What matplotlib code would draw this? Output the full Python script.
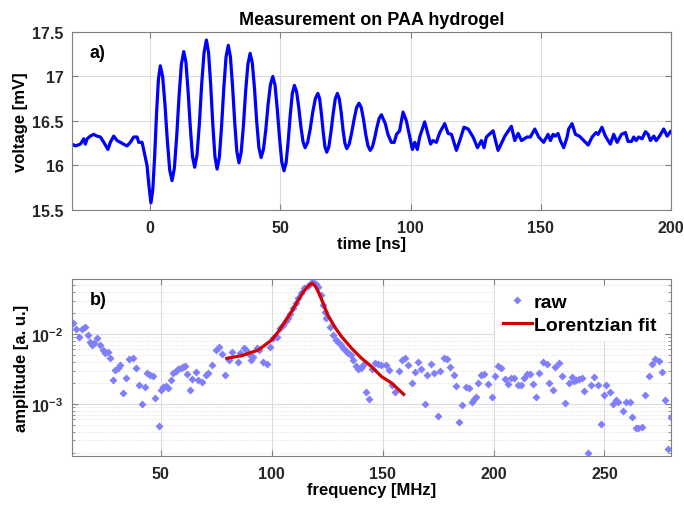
import numpy as np
import matplotlib
matplotlib.use('Agg')
import matplotlib.pyplot as plt
from matplotlib.ticker import FormatStrFormatter, LogLocator, NullFormatter

plt.rcParams['font.family'] = ['Liberation Sans', 'DejaVu Sans']
plt.rcParams['font.weight'] = 'bold'
plt.rcParams['mathtext.fontset'] = 'custom'
plt.rcParams['mathtext.bf'] = 'Liberation Sans:bold'
plt.rcParams['mathtext.rm'] = 'Liberation Sans:bold'

# ---- a) time trace (read off the picture) ----
time_ns = [-30.0, -28.7, -26.8, -25.5, -24.9, -24.2, -23.0, -21.7, -20.4, -19.1,
           -17.8, -16.2, -15.3, -14.0, -12.7, -11.4, -10.2, -8.9, -7.6, -6.3,
           -5.0, -4.4, -3.1, -2.5, -1.2, -0.5, 0.3,
           1.02, 1.74, 2.46, 3.18, 3.9,
           4.8, 5.7, 6.6, 7.5, 8.4,
           9.3, 10.2, 11.1, 12.0, 12.9,
           13.74, 14.58, 15.42, 16.26, 17.1,
           18.0, 18.9, 19.8, 20.7, 21.6,
           22.42, 23.24, 24.06, 24.88, 25.7,
           26.56, 27.42, 28.28, 29.14, 30.0,
           30.82, 31.64, 32.46, 33.28, 34.1,
           34.96, 35.82, 36.68, 37.54, 38.4,
           39.24, 40.08, 40.92, 41.76, 42.6,
           43.5, 44.4, 45.3, 46.2, 47.1,
           47.96, 48.82, 49.68, 50.54, 51.4,
           52.2, 53.0, 53.8, 54.6, 55.4,
           56.22, 57.04, 57.86, 58.68, 59.5,
           60.48, 61.46, 62.44, 63.42, 64.4,
           65.08, 65.76, 66.44, 67.12, 67.8,
           68.62, 69.44, 70.26, 71.08, 71.9,
           72.62, 73.34, 74.06, 74.78, 75.5,
           76.44, 77.38, 78.32, 79.26, 80.2,
           81.06, 81.92, 82.78, 83.64, 84.5,
           85.36, 86.22, 87.08, 87.94, 88.8,
           90.3, 91.3, 92.6, 93.7, 94.6, 95.8, 97.1, 98.4, 99.7,
           100.7, 101.6, 102.6, 103.5, 105.4, 106.7, 107.7, 108.6, 109.9, 111.2,
           113.1, 114.4, 115.7, 117.6, 118.9, 120.5, 122.1, 124.0, 125.7, 127.2,
           128.2, 129.1, 131.7, 132.6, 133.6, 134.9, 136.2, 138.7, 140.0, 141.3,
           142.6, 144.7, 146.0, 147.7, 149.2, 151.1, 152.8, 153.7, 154.7, 155.6,
           156.6, 157.5, 158.8, 160.1, 160.7, 162.0, 163.3, 164.8, 166.5, 168.2,
           169.7, 171.2, 172.0, 173.5, 174.8, 176.7, 178.0, 179.3, 181.0, 182.5,
           183.5, 184.8, 185.7, 186.6, 187.6, 188.9, 190.2, 191.2, 192.1, 193.4,
           194.3, 195.6, 197.2, 198.5, 199.8]
voltage_mV = [16.24, 16.22, 16.24, 16.30, 16.24, 16.30, 16.33, 16.35, 16.33, 16.32,
              16.26, 16.18, 16.26, 16.33, 16.28, 16.26, 16.24, 16.22, 16.26, 16.32,
              16.32, 16.26, 16.26, 16.18, 16.00, 15.78, 15.58,
              15.73, 16.11, 16.59, 16.97, 17.12,
              17.00, 16.68, 16.28, 15.95, 15.83,
              15.97, 16.33, 16.78, 17.14, 17.28,
              17.16, 16.83, 16.43, 16.10, 15.98,
              16.12, 16.47, 16.92, 17.27, 17.41,
              17.27, 16.91, 16.46, 16.10, 15.96,
              16.09, 16.44, 16.87, 17.22, 17.35,
              17.22, 16.89, 16.49, 16.16, 16.03,
              16.15, 16.45, 16.84, 17.14, 17.26,
              17.15, 16.86, 16.49, 16.20, 16.09,
              16.18, 16.40, 16.69, 16.91, 17.00,
              16.90, 16.63, 16.31, 16.04, 15.94,
              16.03, 16.27, 16.57, 16.81, 16.90,
              16.83, 16.66, 16.44, 16.27, 16.20,
              16.26, 16.41, 16.60, 16.75, 16.81,
              16.75, 16.58, 16.38, 16.21, 16.15,
              16.21, 16.38, 16.58, 16.75, 16.81,
              16.75, 16.60, 16.40, 16.25, 16.19,
              16.24, 16.37, 16.52, 16.65, 16.70,
              16.65, 16.52, 16.35, 16.22, 16.17,
              16.21, 16.31, 16.43, 16.53, 16.57,
              16.47, 16.35, 16.26, 16.26, 16.35, 16.39, 16.60, 16.50, 16.32,
              16.18, 16.26, 16.18, 16.32, 16.49, 16.35, 16.24, 16.28, 16.26, 16.37,
              16.47, 16.36, 16.35, 16.17, 16.28, 16.43, 16.41, 16.32, 16.20, 16.28,
              16.20, 16.32, 16.39, 16.28, 16.17, 16.25, 16.33, 16.44, 16.28, 16.36,
              16.28, 16.32, 16.32, 16.41, 16.32, 16.26, 16.35, 16.28, 16.35, 16.33,
              16.36, 16.28, 16.20, 16.32, 16.41, 16.47, 16.35, 16.33, 16.28, 16.23,
              16.32, 16.37, 16.35, 16.43, 16.33, 16.24, 16.35, 16.26, 16.35, 16.37,
              16.27, 16.27, 16.32, 16.28, 16.32, 16.30, 16.38, 16.35, 16.28, 16.33,
              16.28, 16.33, 16.41, 16.33, 16.38]

# ---- b) spectrum (read off the picture) ----
freq_MHz = [10.6, 11.8, 13.0, 14.5, 16.0, 17.1, 18.1, 19.0, 20.1, 21.1, 22.8, 23.8,
            25.0, 26.1, 27.1, 28.6, 29.5, 30.5, 31.6, 32.8, 34.3, 35.8, 37.3, 38.8,
            40.0, 41.5, 43.0, 44.0, 45.1, 46.3, 47.5, 49.0, 50.0, 51.1, 52.3, 53.3,
            54.5, 55.6, 56.8, 57.8, 59.0, 60.0, 60.9, 62.0, 63.0, 64.2, 65.7, 66.9,
            68.7, 70.2, 71.4, 73.2, 74.7, 76.2, 77.4, 78.9, 80.7, 81.9,
            84.8, 85.8, 87.3, 88.4, 89.6, 90.8, 91.8, 93.3, 94.5, 96.3, 97.8, 99.3,
            100.8, 102.3, 103.8, 105.3, 106.3, 107.2, 108.3, 109.8, 110.8, 112.0, 113.2,
            114.7, 116.2, 117.7, 118.8, 119.8, 121.0, 122.2, 123.2, 124.0, 124.7, 126.2,
            127.7, 128.9, 130.0, 131.2, 132.2, 133.3, 134.5, 135.7, 136.7, 137.8, 139.0,
            140.2, 141.2, 142.3, 143.8, 145.0, 146.5, 148.0, 149.5,
            151.5, 153.0, 154.2, 155.7, 157.2, 158.7, 160.2, 161.4, 163.2, 164.4, 165.9,
            167.4, 168.9, 170.1, 171.6, 173.0, 174.8, 176.0, 177.5, 179.0, 180.5, 182.0,
            183.2, 184.5, 186.0, 187.5, 189.0, 190.2, 191.4, 192.2, 193.2, 194.4, 195.9,
            197.4, 199.2, 200.8, 202.0, 203.5, 205.0, 206.5, 208.0, 209.2, 211.0, 212.5,
            213.7, 215.0, 216.4, 217.9, 219.1, 220.3, 222.4, 223.9, 225.1, 226.6, 227.8,
            229.3, 230.8, 232.3, 233.8, 235.3, 236.4, 237.4, 238.6, 239.8, 240.9, 242.4,
            243.9, 245.4, 246.9, 248.4, 249.9, 250.9, 252.4, 253.9, 255.1, 256.3, 258.4,
            259.9, 261.4, 262.6, 264.1, 265.3, 266.9, 268.4, 269.9, 271.4, 272.9, 274.4,
            275.9, 277.4, 278.6, 279.9]
amp_raw = [0.0142, 0.0117, 0.00916, 0.0118, 0.01245, 0.00968, 0.00777, 0.00697, 0.00736,
           0.00867, 0.00697, 0.0059, 0.0053, 0.0056, 0.00449, 0.0022, 0.00306, 0.0033,
           0.0036, 0.00142, 0.00238, 0.0044, 0.00459, 0.00324, 0.00187, 0.00101, 0.00173,
           0.00274, 0.0026, 0.00251, 0.0012, 0.00049, 0.00158, 0.00177, 0.00183, 0.00171,
           0.0022, 0.00274, 0.00296, 0.00316, 0.0033, 0.00341, 0.00353, 0.00265, 0.00158,
           0.00228, 0.0029, 0.0022, 0.00204, 0.0026, 0.00274, 0.0036, 0.0059, 0.00659,
           0.00524, 0.0026, 0.00425, 0.0056,
           0.00394, 0.0053, 0.00638, 0.0059, 0.00513, 0.00425, 0.00474, 0.00624, 0.0059,
           0.00394, 0.00369, 0.00659, 0.00887, 0.00916, 0.01205, 0.01345, 0.01535, 0.01675,
           0.0191, 0.0233, 0.0274, 0.0324, 0.0381, 0.0449, 0.049, 0.053, 0.0547, 0.0513,
           0.0474, 0.0361, 0.0259, 0.0209, 0.01675, 0.01274, 0.00968, 0.0082, 0.00777,
           0.00697, 0.00624, 0.00571, 0.0053, 0.00501, 0.00425, 0.00353, 0.00316, 0.0033,
           0.0036, 0.0015, 0.00118, 0.00316, 0.00381, 0.00369, 0.0036,
           0.0036, 0.00306, 0.00187, 0.00147, 0.00296, 0.00425, 0.00459, 0.0036, 0.00202,
           0.0029, 0.00403, 0.00316, 0.00101, 0.0026, 0.00369, 0.00274, 0.00067, 0.00299,
           0.00449, 0.0044, 0.00341, 0.0026, 0.00183, 0.00056, 0.00097, 0.00177, 0.00168,
           0.00108, 0.00118, 0.00127, 0.00202, 0.0026, 0.00269, 0.00193, 0.00127, 0.00251,
           0.00353, 0.0033, 0.00228, 0.00193, 0.00238, 0.00233, 0.00187, 0.00187, 0.00233,
           0.00265, 0.00265, 0.00191, 0.00127, 0.00274, 0.00394, 0.00369, 0.00197, 0.00158,
           0.00341, 0.00381, 0.00251, 0.00102, 0.00197, 0.00246, 0.00213, 0.0022, 0.00228,
           0.00233, 0.00153, 0.000197, 0.00187, 0.00246, 0.00187, 0.00051, 0.00135, 0.00187,
           0.0015, 0.00099, 0.00114, 0.00106, 0.00079, 0.00105, 0.00106, 0.00066, 0.00045,
           0.00046, 0.00047, 0.00135, 0.00254, 0.00369, 0.0044, 0.00411, 0.00283, 0.00114,
           0.00023, 0.00064]

fit_freq = [79.8, 86.6, 94.0, 100.0, 103.0, 106.0, 109.0, 112.0, 114.0, 115.8, 117.0,
            118.3, 119.3, 120.2, 121.5, 123.2, 125.0, 127.0, 129.0, 131.5, 136.0, 140.5,
            145.0, 149.5, 154.2, 159.5]
fit_amp = [0.00449, 0.0049, 0.0059, 0.0082, 0.0108, 0.015, 0.021, 0.0306, 0.039, 0.0459,
           0.050, 0.053, 0.050, 0.0449, 0.037, 0.0274, 0.0195, 0.015, 0.0118, 0.00916,
           0.00624, 0.00449, 0.00341, 0.00246, 0.00197, 0.00137]

fig = plt.figure(figsize=(6.84, 5.10), dpi=100)
ax1 = fig.add_axes([0.1053, 0.5863, 0.8757, 0.349])
ax2 = fig.add_axes([0.1053, 0.1039, 0.8757, 0.3471])

fs = 11.5
lfs = 12
edge = '#262626'

# top panel
ax1.plot(time_ns, voltage_mV, color='#0000ff', lw=2.3, solid_joinstyle='round')
ax1.set_xlim(-30, 200)
ax1.set_ylim(15.5, 17.5)
ax1.set_xticks([0, 50, 100, 150, 200])
ax1.set_yticks([15.5, 16, 16.5, 17, 17.5])
ax1.yaxis.set_major_formatter(FormatStrFormatter('%g'))
ax1.grid(True, color='#dcdcdc', lw=0.8)
ax1.set_xlabel('time [ns]', fontsize=lfs, fontweight='bold', labelpad=1)
ax1.set_ylabel('voltage [mV]', fontsize=lfs, fontweight='bold', labelpad=3)
ax1.set_title('Measurement on PAA hydrogel', fontsize=13, fontweight='bold', pad=6)
ax1.text(0.03, 0.93, 'a)', transform=ax1.transAxes, fontsize=fs + 1.5, fontweight='bold',
         va='top', ha='left')

# bottom panel
ax2.semilogy(freq_MHz, amp_raw, 'D', color='#8080ff', ms=4.3, mec='none', label='raw')
ax2.semilogy(fit_freq, fit_amp, color='#d40000', lw=2.3, label='Lorentzian fit')
ax2.set_xlim(10, 280)
ax2.set_ylim(1.8e-4, 0.061)
ax2.set_xticks([50, 100, 150, 200, 250])
ax2.set_yticks([1e-3, 1e-2])
ax2.set_yticklabels([r'$\mathbf{10^{-3}}$', r'$\mathbf{10^{-2}}$'])
ax2.yaxis.set_minor_locator(LogLocator(base=10, subs=np.arange(2, 10)))
ax2.yaxis.set_minor_formatter(NullFormatter())
ax2.grid(True, which='major', color='#dcdcdc', lw=0.8)
ax2.grid(True, which='minor', axis='y', color='#d8d8d8', lw=0.6, ls=':')
ax2.set_xlabel('frequency [MHz]', fontsize=lfs, fontweight='bold', labelpad=1)
ax2.set_ylabel('amplitude [a. u.]', fontsize=lfs, fontweight='bold', labelpad=2)
ax2.text(0.03, 0.93, 'b)', transform=ax2.transAxes, fontsize=fs + 1.5, fontweight='bold',
         va='top', ha='left')
leg = ax2.legend(loc='upper right', fontsize=14, frameon=True, fancybox=False,
                 edgecolor='none', facecolor='white', framealpha=1, handlelength=1.5,
                 handletextpad=0.1, borderaxespad=0.35, borderpad=0.4, labelspacing=0.25,
                 markerscale=1.0)

for ax in (ax1, ax2):
    for s in ax.spines.values():
        s.set_color('#808080')
        s.set_linewidth(0.8)
    ax.tick_params(which='both', direction='in', top=True, right=True, colors='#808080',
                   labelcolor=edge, labelsize=fs)
    ax.tick_params(which='major', length=4)
    ax.tick_params(which='minor', length=2)
    ax.tick_params(axis='x', which='major', pad=7)
    ax.tick_params(axis='y', which='major', pad=6)
    ax.set_axisbelow(True)
    for lab in ax.get_xticklabels() + ax.get_yticklabels():
        lab.set_fontweight('bold')

fig.savefig('out.png', dpi=100)
